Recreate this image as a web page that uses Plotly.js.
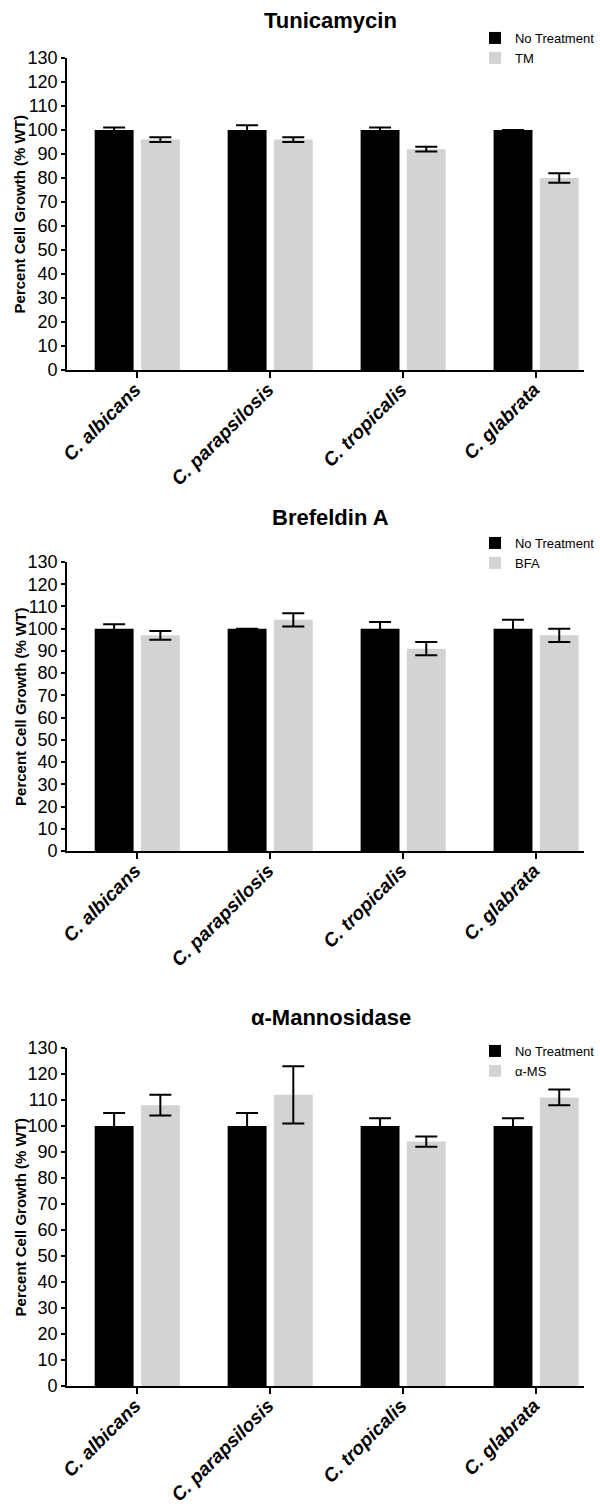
<!DOCTYPE html>
<html>
<head>
<meta charset="utf-8">
<script src="https://cdn.plot.ly/plotly-3.0.1.min.js"></script>
<style>html,body{margin:0;padding:0;background:#fff;}#chart{width:600px;height:1504px;}</style>
</head>
<body>
<div id="chart"></div>
<script>
// ---- data ----
const categories = ['C. albicans', 'C. parapsilosis', 'C. tropicalis', 'C. glabrata'];
const panelTitles = ['Tunicamycin', 'Brefeldin A', 'α-Mannosidase'];
const controlName = 'No Treatment';
const treatmentNames = ['TM', 'BFA', 'α-MS'];
const yAxisTitle = 'Percent Cell Growth (% WT)';

const tunNT = [100, 100, 100, 100];
const tunNTErr = [1, 2, 1, 0];
const tunTM = [96, 96, 92, 80];
const tunTMErr = [1, 1, 1, 2];

const bfaNT = [100, 100, 100, 100];
const bfaNTErr = [2, 0, 3, 4];
const bfaTr = [97, 104, 91, 97];
const bfaTrErr = [2, 3, 3, 3];

const msNT = [100, 100, 100, 100];
const msNTErr = [5, 5, 3, 3];
const msTr = [108, 112, 94, 111];
const msTrErr = [4, 11, 2, 3];

const yTicks = [0,10,20,30,40,50,60,70,80,90,100,110,120,130];

// ---- layout helpers ----
const H = 1504, W = 600;
const X0 = 69;
const panels = [
  {nt: tunNT, ntErr: tunNTErr, tr: tunTM, trErr: tunTMErr, top: 58, bottom: 370, titleY: 20, legTop: 23},
  {nt: bfaNT, ntErr: bfaNTErr, tr: bfaTr, trErr: bfaTrErr, top: 562, bottom: 851, titleY: 517, legTop: 528},
  {nt: msNT, ntErr: msNTErr, tr: msTr, trErr: msTrErr, top: 1048, bottom: 1386, titleY: 1017, legTop: 1036}
];
const tickText = categories.map(c => '<b><i>' + c + '</i></b>');
const catIdx = categories.map((c, i) => i);

const traces = [];
const layout = {
  width: W, height: H,
  margin: {l: 0, r: 0, t: 0, b: 0},
  paper_bgcolor: '#fff', plot_bgcolor: '#fff',
  font: {family: 'Liberation Sans, Arial, sans-serif', color: '#000'},
  barmode: 'group', bargap: 0.305, bargroupgap: 0.158,
  annotations: [],
  showlegend: true
};

panels.forEach((p, k) => {
  const n = k + 1;
  const xa = n === 1 ? 'x' : 'x' + n;
  const ya = n === 1 ? 'y' : 'y' + n;
  const lg = n === 1 ? 'legend' : 'legend' + n;
  const err = arr => ({type: 'data', array: arr, visible: true, color: '#000', thickness: 2, width: 11});
  traces.push({
    type: 'bar', x: catIdx, y: p.nt, name: controlName, xaxis: xa, yaxis: ya, legend: lg,
    marker: {color: '#000000', line: {width: 0}}, error_y: err(p.ntErr)
  });
  traces.push({
    type: 'bar', x: catIdx, y: p.tr, name: treatmentNames[k], xaxis: xa, yaxis: ya, legend: lg,
    marker: {color: '#d3d3d3', line: {width: 0}}, error_y: err(p.trErr)
  });
  const xKey = n === 1 ? 'xaxis' : 'xaxis' + n;
  const yKey = n === 1 ? 'yaxis' : 'yaxis' + n;
  layout[xKey] = {
    domain: [X0 / W, 1], anchor: ya,
    range: [-0.527, 3.36], tickmode: 'array', tickvals: catIdx, ticktext: tickText,
    tickangle: -45, tickfont: {size: 19, family: 'Liberation Sans, Arial, sans-serif'},
    ticklabelstandoff: -7, ticklabelshift: -2,
    showline: true, linecolor: '#000', linewidth: 2, ticks: 'outside', ticklen: 6, tickwidth: 2, tickcolor: '#000',
    showgrid: false, zeroline: false, fixedrange: true
  };
  layout[yKey] = {
    domain: [1 - p.bottom / H, 1 - p.top / H], anchor: xa,
    range: [0, 130], tickmode: 'array', tickvals: yTicks,
    tickfont: {size: 18, family: 'Liberation Sans, Arial, sans-serif'},
    showline: true, linecolor: '#000', linewidth: 2, ticks: 'outside', ticklen: 4, tickwidth: 2, tickcolor: '#000',
    showgrid: false, zeroline: false, fixedrange: true
  };
  layout[lg] = {
    x: 488 / W, xanchor: 'left', y: 1 - p.legTop / H, yanchor: 'top',
    bgcolor: 'rgba(0,0,0,0)', font: {size: 13}, tracegroupgap: 0, itemwidth: 30
  };
  layout.annotations.push({
    text: '<b>' + panelTitles[k] + '</b>', xref: 'paper', yref: 'paper',
    x: 340 / W, y: 1 - p.titleY / H, xanchor: 'center', yanchor: 'middle',
    showarrow: false, font: {size: 22}
  });
  layout.annotations.push({
    text: '<b>' + yAxisTitle + '</b>', xref: 'paper', yref: 'paper',
    x: 21 / W, y: 1 - ((p.top + p.bottom) / 2) / H, xanchor: 'center', yanchor: 'middle',
    textangle: -90, showarrow: false, font: {size: 15}
  });
});

Plotly.newPlot('chart', traces, layout, {displayModeBar: false, staticPlot: true});
</script>
</body>
</html>
